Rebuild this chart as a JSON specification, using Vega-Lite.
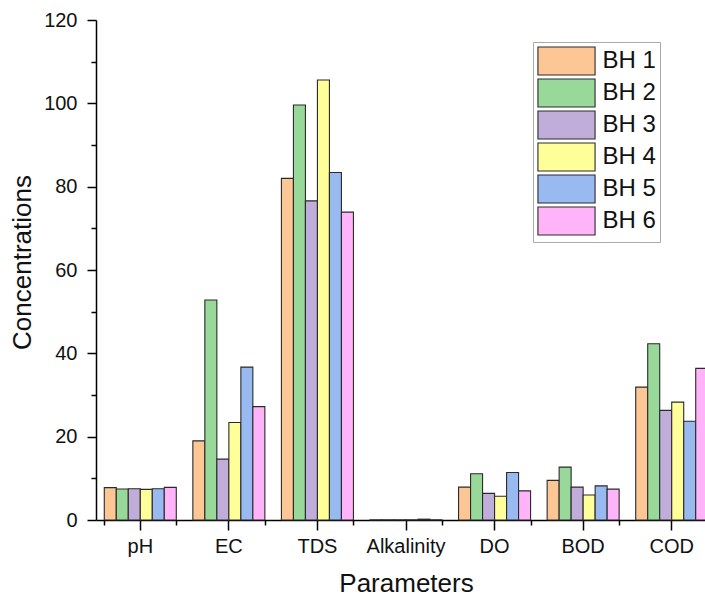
{
  "$schema": "https://vega.github.io/schema/vega-lite/v6.json",
  "width": 609,
  "height": 500,
  "autosize": {"type": "none"},
  "padding": {"left": 96, "top": 20, "right": 0, "bottom": 77},
  "background": "white",
  "config": {"view": {"stroke": null}, "font": "Liberation Sans"},
  "data": {"values": [
    {"param": "pH", "bh": "BH 1", "value": 7.76},
    {"param": "pH", "bh": "BH 2", "value": 7.44},
    {"param": "pH", "bh": "BH 3", "value": 7.5},
    {"param": "pH", "bh": "BH 4", "value": 7.35},
    {"param": "pH", "bh": "BH 5", "value": 7.5},
    {"param": "pH", "bh": "BH 6", "value": 7.84},
    {"param": "EC", "bh": "BH 1", "value": 19.0},
    {"param": "EC", "bh": "BH 2", "value": 52.8},
    {"param": "EC", "bh": "BH 3", "value": 14.6},
    {"param": "EC", "bh": "BH 4", "value": 23.4},
    {"param": "EC", "bh": "BH 5", "value": 36.7},
    {"param": "EC", "bh": "BH 6", "value": 27.2},
    {"param": "TDS", "bh": "BH 1", "value": 82.0},
    {"param": "TDS", "bh": "BH 2", "value": 99.6},
    {"param": "TDS", "bh": "BH 3", "value": 76.6},
    {"param": "TDS", "bh": "BH 4", "value": 105.6},
    {"param": "TDS", "bh": "BH 5", "value": 83.4},
    {"param": "TDS", "bh": "BH 6", "value": 73.9},
    {"param": "Alkalinity", "bh": "BH 1", "value": 0.05},
    {"param": "Alkalinity", "bh": "BH 2", "value": 0.05},
    {"param": "Alkalinity", "bh": "BH 3", "value": 0.05},
    {"param": "Alkalinity", "bh": "BH 4", "value": 0.05},
    {"param": "Alkalinity", "bh": "BH 5", "value": 0.2},
    {"param": "Alkalinity", "bh": "BH 6", "value": 0.05},
    {"param": "DO", "bh": "BH 1", "value": 7.9},
    {"param": "DO", "bh": "BH 2", "value": 11.1},
    {"param": "DO", "bh": "BH 3", "value": 6.4},
    {"param": "DO", "bh": "BH 4", "value": 5.7},
    {"param": "DO", "bh": "BH 5", "value": 11.4},
    {"param": "DO", "bh": "BH 6", "value": 7.0},
    {"param": "BOD", "bh": "BH 1", "value": 9.5},
    {"param": "BOD", "bh": "BH 2", "value": 12.7},
    {"param": "BOD", "bh": "BH 3", "value": 7.9},
    {"param": "BOD", "bh": "BH 4", "value": 6.0},
    {"param": "BOD", "bh": "BH 5", "value": 8.2},
    {"param": "BOD", "bh": "BH 6", "value": 7.4},
    {"param": "COD", "bh": "BH 1", "value": 31.9},
    {"param": "COD", "bh": "BH 2", "value": 42.3},
    {"param": "COD", "bh": "BH 3", "value": 26.3},
    {"param": "COD", "bh": "BH 4", "value": 28.3},
    {"param": "COD", "bh": "BH 5", "value": 23.7},
    {"param": "COD", "bh": "BH 6", "value": 36.4}
  ]},
  "layer": [
    {
      "mark": {"type": "bar", "stroke": "#2a2a2a", "strokeWidth": 1.1},
      "encoding": {
        "x": {
          "field": "param", "type": "nominal",
          "sort": ["pH", "EC", "TDS", "Alkalinity", "DO", "BOD", "COD"],
          "scale": {"range": [0, 620], "paddingInner": 0.187, "paddingOuter": 0.0935},
          "axis": {
            "orient": "bottom", "labelAngle": 0, "tickSize": 10, "tickWidth": 1.5, "tickColor": "#000",
            "domainColor": "#000", "domainWidth": 1.5, "labelFontSize": 20, "labelColor": "#111",
            "labelPadding": 6, "title": "Parameters", "titleFontSize": 26, "titleFontWeight": "normal",
            "titleColor": "#111", "titlePadding": 14
          }
        },
        "xOffset": {"field": "bh", "type": "nominal", "scale": {"paddingInner": 0, "paddingOuter": 0}},
        "y": {
          "field": "value", "type": "quantitative",
          "scale": {"domain": [0, 120], "nice": false},
          "axis": {
            "values": [0, 10, 20, 30, 40, 50, 60, 70, 80, 90, 100, 110, 120],
            "labelExpr": "datum.value % 20 == 0 ? datum.label : ''",
            "tickSize": {"condition": {"test": "datum.value % 20 == 0", "value": 9}, "value": 5},
            "tickWidth": 1.5, "tickColor": "#000", "domainColor": "#000", "domainWidth": 1.5,
            "grid": false, "labelFontSize": 20, "labelColor": "#111", "labelPadding": 10,
            "title": "Concentrations", "titleFontSize": 26, "titleFontWeight": "normal", "titleColor": "#111",
            "titlePadding": 8, "titleY": 242
          }
        },
        "color": {
          "field": "bh", "type": "nominal",
          "scale": {
            "domain": ["BH 1", "BH 2", "BH 3", "BH 4", "BH 5", "BH 6"],
            "range": ["#FDC795", "#98D898", "#C0ADDA", "#FFFF99", "#99B9F1", "#FFB4FA"]
          },
          "legend": {
            "orient": "none", "legendX": 437, "legendY": 22, "title": null,
            "symbolType": "M-2.04,-1H2.04V1H-2.04Z", "symbolSize": 784,
            "symbolStrokeColor": "#2a2a2a", "symbolStrokeWidth": 1.1, "symbolOpacity": 1,
            "labelFontSize": 24, "labelColor": "#111", "strokeColor": "#aaaaaa", "fillColor": "white",
            "padding": 4, "rowPadding": -2.6, "symbolOffset": 14.5, "labelOffset": 21
          }
        }
      }
    },
    {
      "mark": {"type": "bar", "opacity": 0},
      "encoding": {
        "x": {
          "field": "param", "type": "nominal",
          "sort": ["pH", "EC", "TDS", "Alkalinity", "DO", "BOD", "COD"],
          "axis": {"orient": "bottom", "tickBand": "extent", "labels": false, "domain": false,
                   "tickSize": 5, "tickWidth": 1.5, "tickColor": "#000", "title": null}
        },
        "xOffset": {"field": "bh", "type": "nominal"},
        "y": {"field": "value", "type": "quantitative"}
      }
    }
  ],
  "resolve": {"axis": {"x": "independent"}}
}
